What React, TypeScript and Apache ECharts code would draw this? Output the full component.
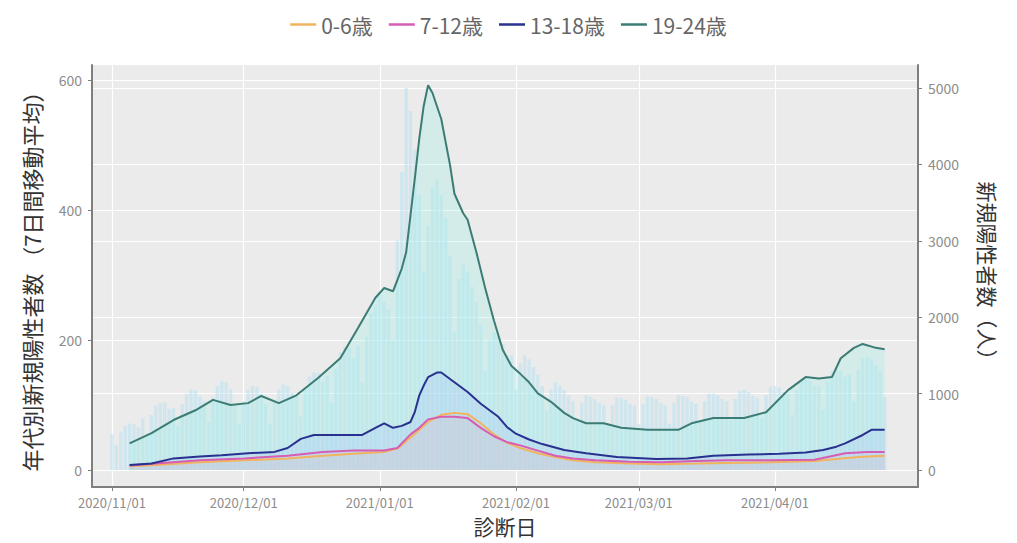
import React, { useEffect, useRef } from "react";
import * as echarts from "echarts";

const FONT = '"Noto Sans CJK JP", "Noto Sans", sans-serif';

const startDate = "2020/11/01";
const monthTickLabels = ["2020/11/01", "2020/12/01", "2021/01/01", "2021/02/01", "2021/03/01", "2021/04/01"];
const leftTicks = [0, 200, 400, 600];
const rightTicks = [0, 1000, 2000, 3000, 4000, 5000];
const legendNames = ["0-6歳", "7-12歳", "13-18歳", "19-24歳"];
const lineColors = ["#F2B35E", "#D65DB4", "#28318F", "#3B7C74"];
const areaColors = [
  "rgba(255,214,140,0.35)",
  "rgba(255,160,230,0.30)",
  "rgba(160,170,255,0.30)",
  "rgba(150,240,232,0.40)",
];

// daily totals (right axis), one value per day starting 2020/11/01
const dailyTotals = [
  470, 330, 500, 580, 610, 600, 560,
  680, 480, 720, 840, 880, 890, 800,
  810, 570, 860, 1000, 1050, 1040, 960,
  900, 630, 950, 1100, 1160, 1150, 1060,
  850, 600, 900, 1050, 1100, 1090, 1000,
  860, 610, 920, 1060, 1120, 1100, 1010,
  980, 700, 1050, 1220, 1280, 1270, 1160,
  1230, 880, 1320, 1540, 1610, 1600, 1460,
  1620, 1150, 1730, 2050, 2150, 2300, 2200,
  2100, 1700, 3000, 3900, 5000, 4700, 4200,
  3600, 2600, 3200, 3700, 3800, 3600, 3300,
  2800, 1800, 2500, 2700, 2600, 2400, 2200,
  1900, 1300, 1700, 1800, 1750, 1650, 1500,
  1500, 1050, 1400, 1500, 1450, 1350, 1250,
  1100, 780, 1050, 1150, 1100, 1050, 980,
  900, 650, 880, 980, 960, 930, 880,
  850, 600, 850, 950, 940, 920, 870,
  840, 600, 860, 960, 950, 930, 880,
  850, 610, 880, 980, 970, 950, 900,
  870, 630, 900, 1000, 1000, 980, 930,
  900, 650, 930, 1040, 1050, 1020, 970,
  940, 680, 980, 1090, 1100, 1080, 1020,
  1000, 720, 1050, 1170, 1190, 1170, 1100,
  1100, 790, 1160, 1300, 1320, 1300, 1220,
  1250, 900, 1320, 1460, 1480, 1450, 1370,
  1300, 950,
];

// 7-day moving averages by age group: day offsets from 2020/11/01 and values
const age0to6Days = [4, 10, 20, 30, 40, 48, 55, 62, 65, 68, 70, 72, 75, 78, 81, 84, 87, 90, 93, 97, 101, 105, 110, 118, 125, 133, 140, 150, 160, 165, 170, 176];
const age0to6Values = [6, 8, 12, 15, 18, 22, 25, 28, 33, 50, 62, 74, 85, 88, 86, 72, 55, 42, 34, 26, 20, 15, 12, 10, 9, 10, 11, 12, 14, 17, 20, 22];

const age7to12Days = [4, 10, 20, 30, 40, 48, 55, 62, 65, 68, 70, 72, 75, 78, 81, 84, 87, 90, 93, 97, 101, 105, 110, 118, 125, 133, 140, 150, 160, 163, 167, 172, 176];
const age7to12Values = [7, 10, 15, 18, 22, 28, 30, 30, 34, 55, 65, 78, 82, 82, 80, 65, 52, 43, 38, 30, 22, 18, 15, 13, 12, 14, 15, 15, 16, 20, 26, 28, 28];

const age13to18Days = [4, 9, 14, 20, 25, 31, 37, 40, 43, 46, 52, 57, 60, 62, 64, 66, 68, 69, 70, 71, 72, 74, 75, 78, 81, 84, 88, 90, 92, 95, 98, 103, 108, 115, 124, 131, 137, 145, 152, 158, 162, 165, 167, 171, 173, 176];
const age13to18Values = [8, 10, 18, 21, 23, 26, 28, 34, 48, 54, 54, 54, 65, 72, 65, 68, 74, 90, 115, 130, 143, 150, 150, 135, 120, 102, 82, 66, 56, 47, 40, 31, 26, 20, 17, 18, 22, 24, 25, 27, 31, 36, 41, 54, 62, 62];

const age19to24Days = [4, 9, 14, 19, 23, 27, 31, 34, 38, 42, 47, 52, 56, 60, 62, 64, 66, 67, 69, 70, 71, 72, 73, 75, 77, 78, 80, 81, 83, 85, 87, 89, 91, 93, 95, 97, 100, 103, 105, 108, 112, 116, 122, 129, 132, 137, 144, 149, 154, 158, 161, 164, 166, 169, 171, 174, 176];
const age19to24Values = [41, 57, 77, 92, 108, 100, 103, 114, 103, 115, 142, 172, 218, 265, 280, 275, 310, 335, 450, 510, 560, 592, 580, 540, 469, 425, 395, 385, 335, 280, 230, 185, 160, 148, 135, 118, 105, 88, 80, 72, 72, 65, 62, 62, 72, 80, 80, 89, 123, 143, 141, 143, 172, 188, 194, 188, 186];

const DAY = 86400000;
const dayOf = (label: string) => Math.round((Date.parse(label) - Date.parse(startDate)) / DAY);
const monthTickDays = monthTickLabels.map(dayOf);

const groups = [
  [age0to6Days, age0to6Values],
  [age7to12Days, age7to12Values],
  [age13to18Days, age13to18Values],
  [age19to24Days, age19to24Values],
];

export default function App() {
  const ref = useRef<HTMLDivElement>(null);
  useEffect(() => {
    if (!ref.current) return;
    const chart = echarts.init(ref.current, null, { renderer: "svg" });
    const axisColor = "#7f7f7f";
    const labelColor = "#8c8c8c";
    chart.setOption({
      animation: false,
      backgroundColor: "#ffffff",
      textStyle: { fontFamily: FONT },
      legend: {
        data: legendNames,
        icon: "rect",
        top: 9,
        left: "center",
        itemWidth: 26,
        itemHeight: 2.5,
        itemGap: 16,
        textStyle: { fontSize: 21, color: "#666", fontFamily: FONT },
      },
      grid: { left: 92, right: 99, top: 65, bottom: 56, backgroundColor: "#EBEBEB", show: true, borderWidth: 0 },
      xAxis: {
        type: "value",
        min: -4.56,
        max: 183.6,
        name: "診断日",
        nameLocation: "middle",
        nameGap: 28,
        nameTextStyle: { fontSize: 21, color: "#333", fontFamily: FONT },
        axisLine: { show: true, onZero: false, lineStyle: { color: axisColor, width: 2 } },
        axisTick: { show: true, length: 4, customValues: monthTickDays, lineStyle: { color: axisColor } },
        axisLabel: {
          customValues: monthTickDays,
          fontSize: 13,
          color: labelColor,
          margin: 9,
          formatter: (v: number) => {
            const i = monthTickDays.indexOf(Math.round(v));
            return i >= 0 ? monthTickLabels[i] : "";
          },
        },
        splitLine: { show: true, lineStyle: { color: "#ffffff", width: 1.2 } },
      },
      yAxis: [
        {
          type: "value",
          min: -26,
          max: 623,
          position: "left",
          name: "年代別新規陽性者数 （7日間移動平均）",
          nameLocation: "middle",
          nameGap: 50,
          nameTextStyle: { fontSize: 22, color: "#333", fontFamily: FONT },
          axisLine: { show: true, onZero: false, lineStyle: { color: axisColor, width: 2 } },
          axisTick: { show: true, length: 4, customValues: leftTicks, lineStyle: { color: axisColor } },
          axisLabel: { customValues: leftTicks, fontSize: 14, color: labelColor, margin: 10 },
          splitLine: { show: true, lineStyle: { color: "#ffffff", width: 1.2 } },
        },
        {
          type: "value",
          min: -222,
          max: 5301,
          position: "right",
          name: "新規陽性者数（人）",
          nameLocation: "middle",
          nameRotate: -90,
          nameGap: 60,
          nameTextStyle: { fontSize: 21, color: "#333", fontFamily: FONT },
          axisLine: { show: true, onZero: false, lineStyle: { color: axisColor, width: 2 } },
          axisTick: { show: true, length: 4, customValues: rightTicks, lineStyle: { color: axisColor } },
          axisLabel: { customValues: rightTicks, fontSize: 14, color: labelColor, margin: 10, formatter: (v: number) => String(v) },
          splitLine: { show: true, lineStyle: { color: "#ffffff", width: 1 } },
        },
      ],
      series: [
        {
          name: "新規陽性者数",
          type: "bar",
          yAxisIndex: 1,
          barWidth: 3.4,
          itemStyle: { color: "rgba(185,226,240,0.55)" },
          data: dailyTotals.map((v, i) => [i, v]),
        },
        ...groups.map(([days, values], k) => ({
          name: legendNames[k],
          type: "line",
          yAxisIndex: 0,
          symbol: "none",
          lineStyle: { color: lineColors[k], width: 2 },
          itemStyle: { color: lineColors[k] },
          areaStyle: { color: areaColors[k] },
          data: days.map((d, i) => [d, values[i]]),
        })),
      ],
    });
    return () => chart.dispose();
  }, []);
  return (
    <div
      ref={ref}
      style={{ position: "fixed", left: 0, top: 0, width: 1017, height: 543 }}
    />
  );
}
